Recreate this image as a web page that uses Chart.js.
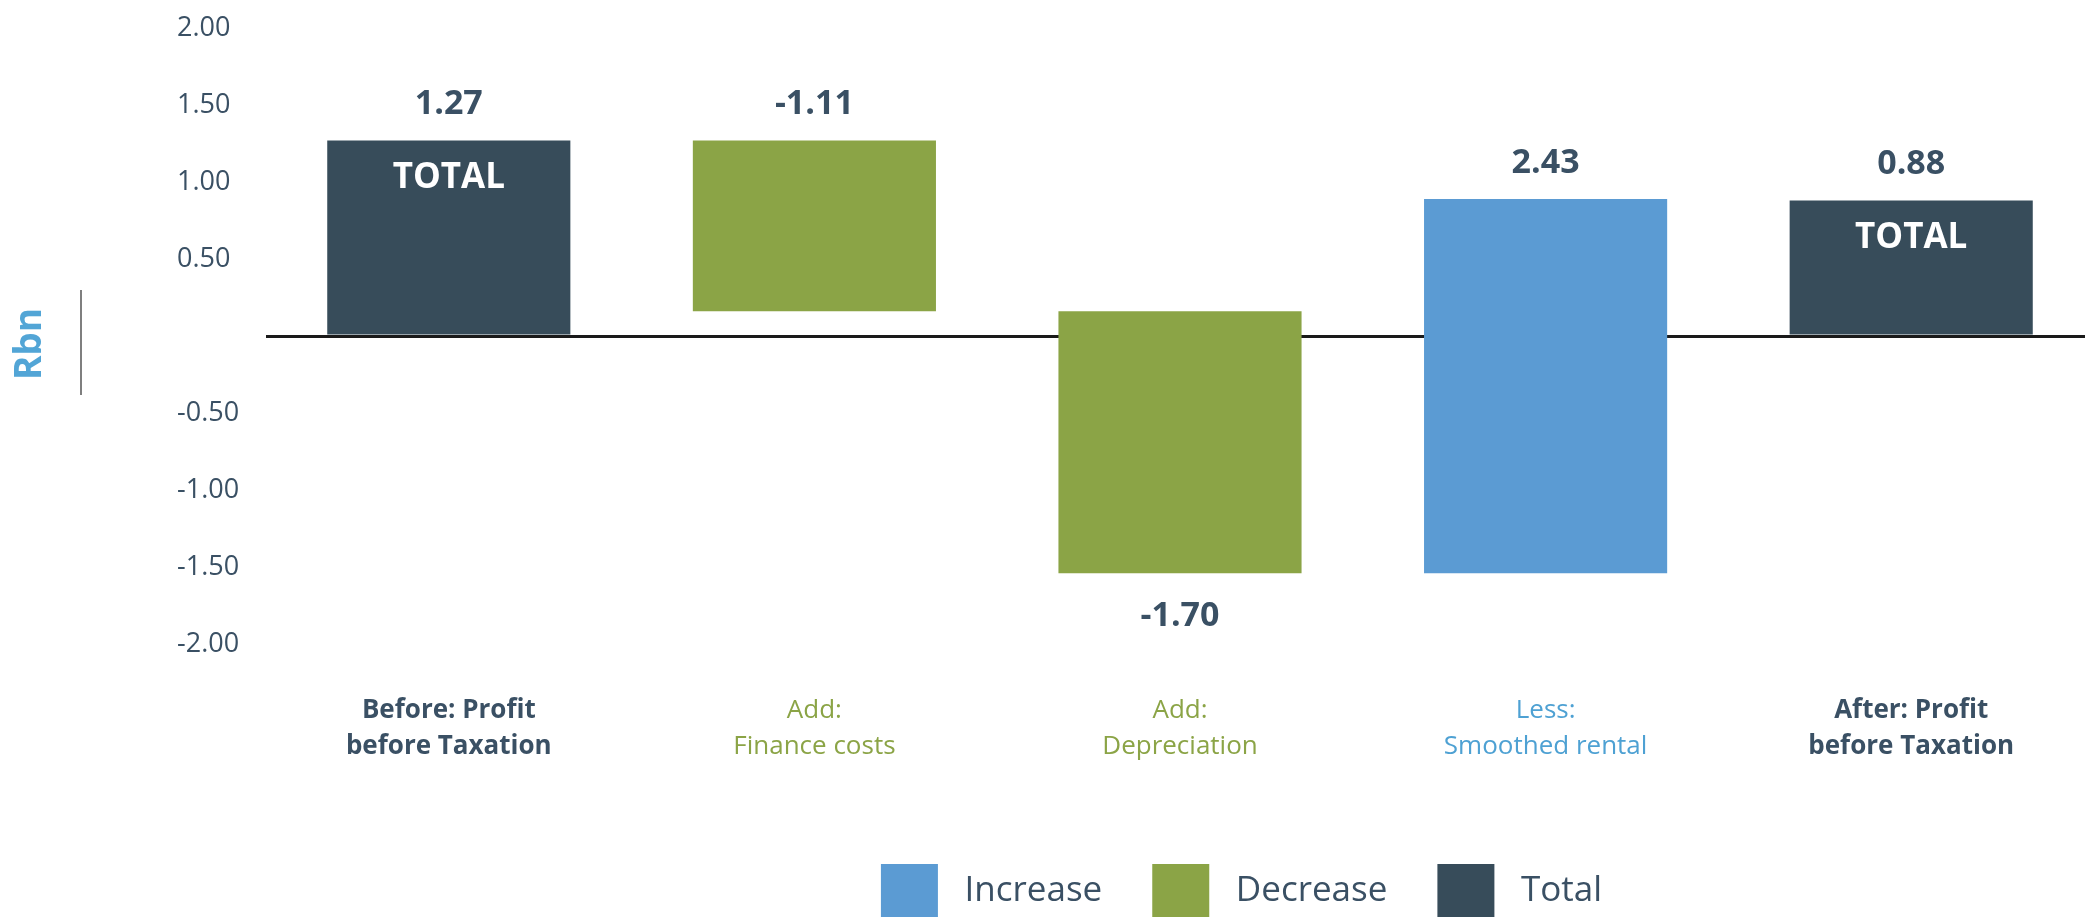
<!DOCTYPE html>
<html>
<head>
<meta charset="utf-8">
<script src="https://cdn.jsdelivr.net/npm/chart.js@4.4.1/dist/chart.umd.min.js"></script>
<style>
  html, body { margin: 0; padding: 0; background: #fff; overflow: hidden; }
  #wrap { position: relative; width: 2094px; height: 928px; }
</style>
</head>
<body>
<div id="wrap"><canvas id="waterfall"></canvas></div>
<script>
// waterfall: profit before tax, before vs after IFRS16 style adjustments (Rbn)
const categories = [
  ['Before: Profit', 'before Taxation'],
  ['Add:', 'Finance costs'],
  ['Add:', 'Depreciation'],
  ['Less:', 'Smoothed rental'],
  ['After: Profit', 'before Taxation']
];
const changes = [1.27, -1.11, -1.70, 2.43, 0.88];
const kinds = ['total', 'decrease', 'decrease', 'increase', 'total'];

const seriesNames = ['Increase', 'Decrease', 'Total'];
const seriesKinds = ['increase', 'decrease', 'total'];
const seriesColors = ['#5b9bd3', '#8ba446', '#374c5a'];
const labelColors = ['#3a5064', '#8ba446', '#8ba446', '#4ea1d3', '#3a5064'];

const DARK = '#3a5064';
Chart.defaults.font.family = '"Open Sans", sans-serif';

// running totals -> floating bars
let running = 0;
const ranges = changes.map((v, i) => {
  if (kinds[i] === 'total') { running = v; return [0, v]; }
  const start = running;
  running = +(running + v).toFixed(2);
  return [Math.min(start, running), Math.max(start, running)];
});

const datasets = seriesKinds.map((k, j) => ({
  label: seriesNames[j],
  data: ranges.map((r, i) => kinds[i] === k ? r : null),
  backgroundColor: seriesColors[j],
  borderWidth: 0,
  grouped: false,
  barPercentage: 0.665,
  categoryPercentage: 1.0
}));

const valueLabels = {
  id: 'valueLabels',
  afterDatasetsDraw(chart) {
    const ctx = chart.ctx;
    ctx.save();
    ctx.textAlign = 'center';
    ctx.textBaseline = 'middle';
    chart.data.datasets.forEach((ds, j) => {
      chart.getDatasetMeta(j).data.forEach((bar, i) => {
        if (ds.data[i] == null) return;
        const top = Math.min(bar.y, bar.base);
        const bottom = Math.max(bar.y, bar.base);
        const below = changes[i] < 0 && ds.data[i][0] < 0;
        ctx.font = 'bold 34px "Open Sans"';
        ctx.fillStyle = DARK;
        ctx.fillText(changes[i].toFixed(2), bar.x, below ? bottom + 43 : top - 36);
        if (kinds[i] === 'total') {
          ctx.font = 'bold 35px "Open Sans"';
          ctx.fillStyle = '#ffffff';
          ctx.fillText('TOTAL', bar.x, top + 38);
        }
      });
    });
    ctx.restore();
  }
};

// "Rbn" unit label with the thin rule beside it
const unitLabel = {
  id: 'unitLabel',
  afterDraw(chart) {
    const ctx = chart.ctx;
    const zero = chart.scales.y.getPixelForValue(0);
    ctx.save();
    ctx.strokeStyle = '#555';
    ctx.lineWidth = 1.5;
    ctx.beginPath();
    ctx.moveTo(81, zero - 46);
    ctx.lineTo(81, zero + 59);
    ctx.stroke();
    ctx.translate(30, zero + 8);
    ctx.rotate(-Math.PI / 2);
    ctx.font = 'bold 37px "Open Sans"';
    ctx.fillStyle = '#52a5d6';
    ctx.textAlign = 'center';
    ctx.textBaseline = 'middle';
    ctx.fillText('Rbn', 0, 0);
    ctx.restore();
  }
};

// nudge legend to the right like the original
const legendShift = {
  id: 'legendShift',
  afterLayout(chart) {
    chart.legend.left += 106;
    chart.legend.right += 106;
  }
};

new Chart(document.getElementById('waterfall'), {
  type: 'bar',
  data: { labels: categories, datasets },
  plugins: [valueLabels, unitLabel, legendShift],
  options: {
    responsive: true,
    maintainAspectRatio: false,
    animation: false,
    layout: { padding: { left: 177, top: 28, right: 0, bottom: 0 } },
    plugins: {
      tooltip: { enabled: false },
      legend: {
        position: 'bottom',
        labels: {
          boxWidth: 57,
          boxHeight: 54,
          padding: 50,
          color: DARK,
          font: { size: 35 },
          generateLabels: chart => Chart.defaults.plugins.legend.labels.generateLabels(chart)
            .map(item => ({ ...item, text: ' ' + item.text }))
        }
      }
    },
    scales: {
      x: {
        grid: { display: false },
        border: { display: false },
        afterFit: s => { s.height = 170; },
        ticks: {
          autoSkip: false,
          maxRotation: 0,
          padding: 41,
          color: c => labelColors[c.index],
          font: c => ({
            size: 26,
            lineHeight: 1.385,
            weight: kinds[c.index] === 'total' ? 'bold' : 'normal'
          })
        }
      },
      y: {
        min: -2,
        max: 2,
        afterFit: s => { s.width = 89; },
        border: { display: false },
        grid: {
          drawTicks: false,
          color: c => c.tick && c.tick.value === 0 ? '#1a1a1a' : 'transparent',
          lineWidth: 3
        },
        ticks: {
          stepSize: 0.5,
          padding: 0,
          crossAlign: 'far',
          color: DARK,
          font: { size: 27 },
          callback: v => v === 0 ? '' : v.toFixed(2)
        }
      }
    }
  }
});
</script>
</body>
</html>
